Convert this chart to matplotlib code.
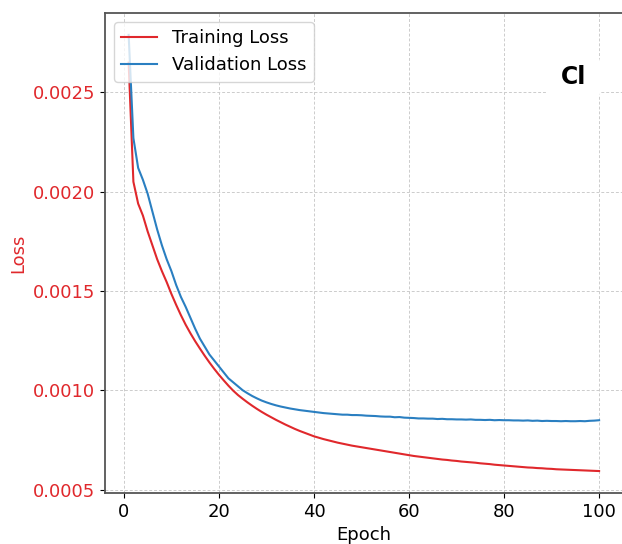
import matplotlib
matplotlib.use("Agg")
from matplotlib import pyplot as plt

epochs = list(range(1, 101))

train_loss = [
    0.002650, 0.002050, 0.001940, 0.001880, 0.001800, 0.001730, 0.001660, 0.001600, 0.001545, 0.001485,
    0.001430, 0.001378, 0.001330, 0.001287, 0.001247, 0.001210, 0.001174, 0.001140, 0.001108, 0.001078,
    0.001050, 0.001023, 0.000998, 0.000976, 0.000957, 0.000939, 0.000922, 0.000906, 0.000891, 0.000877,
    0.000864, 0.000851, 0.000839, 0.000827, 0.000816, 0.000805, 0.000795, 0.000786, 0.000777, 0.000768,
    0.000761, 0.000754, 0.000748, 0.000742, 0.000736, 0.000731, 0.000726, 0.000721, 0.000717, 0.000713,
    0.000709, 0.000705, 0.000701, 0.000697, 0.000693, 0.000689, 0.000685, 0.000681, 0.000677, 0.000673,
    0.000669, 0.000666, 0.000663, 0.000660, 0.000657, 0.000654, 0.000651, 0.000649, 0.000646, 0.000644,
    0.000641, 0.000639, 0.000637, 0.000635, 0.000632, 0.000630, 0.000628, 0.000625, 0.000623, 0.000621,
    0.000619, 0.000617, 0.000615, 0.000613, 0.000611, 0.000610, 0.000608, 0.000607, 0.000605, 0.000604,
    0.000602, 0.000601, 0.000600, 0.000599, 0.000598, 0.000597, 0.000596, 0.000595, 0.000594, 0.000593,
]

val_loss = [
    0.002790, 0.002270, 0.002120, 0.002060, 0.001990, 0.001900, 0.001810, 0.001730, 0.001660, 0.001600,
    0.001530, 0.001470, 0.001420, 0.001365, 0.001310, 0.001260, 0.001220, 0.001180, 0.001150, 0.001120,
    0.001090, 0.001060, 0.001040, 0.001020, 0.001000, 0.000985, 0.000971, 0.000959, 0.000948, 0.000939,
    0.000931, 0.000924, 0.000918, 0.000913, 0.000908, 0.000904, 0.000900, 0.000897, 0.000894, 0.000891,
    0.000888, 0.000885, 0.000883, 0.000881, 0.000879, 0.000877, 0.000877, 0.000875, 0.000875, 0.000874,
    0.000872, 0.000871, 0.000870, 0.000868, 0.000867, 0.000867, 0.000864, 0.000865, 0.000862, 0.000861,
    0.000860, 0.000858, 0.000858, 0.000857, 0.000857, 0.000855, 0.000856, 0.000854, 0.000854, 0.000853,
    0.000853, 0.000852, 0.000853, 0.000851, 0.000851, 0.000850, 0.000851, 0.000849, 0.000850, 0.000849,
    0.000849, 0.000848, 0.000848, 0.000847, 0.000848, 0.000846, 0.000847, 0.000845, 0.000846, 0.000845,
    0.000845, 0.000844, 0.000845, 0.000844, 0.000844, 0.000845, 0.000844, 0.000846, 0.000847, 0.000849,
]

red = '#e0282c'
blue = '#2a7fc1'

fig = plt.figure(figsize=(6.22, 5.44), dpi=100)
ax = fig.add_axes([0.169, 0.094, 0.832, 0.882])

ax.plot(epochs, train_loss, color=red, linewidth=1.5, label='Training Loss')
ax.plot(epochs, val_loss, color=blue, linewidth=1.5, label='Validation Loss')

ax.set_xlabel('Epoch', fontsize=13)
ax.set_ylabel('Loss', fontsize=13, color=red)
ax.tick_params(axis='y', labelcolor=red, labelsize=13)
ax.tick_params(axis='x', labelsize=13)
ax.set_xticks([0, 20, 40, 60, 80, 100])
ax.set_yticks([0.0005, 0.0010, 0.0015, 0.0020, 0.0025])
ax.yaxis.set_major_formatter(matplotlib.ticker.FormatStrFormatter('%.4f'))

ax.grid(True, linestyle=(0, (3, 2)), color='#cccccc', linewidth=0.7)
for s in ax.spines.values():
    s.set_color('#555555')
    s.set_linewidth(1.3)

ax.legend(loc='upper left', fontsize=13, framealpha=0.8)

ax.text(0.905, 0.866, 'Cl', transform=ax.transAxes, fontsize=17, fontweight='bold',
        ha='center', va='center',
        bbox=dict(facecolor='white', edgecolor='none', boxstyle='round,pad=0.6'))

fig.savefig('out.png', dpi=100)
